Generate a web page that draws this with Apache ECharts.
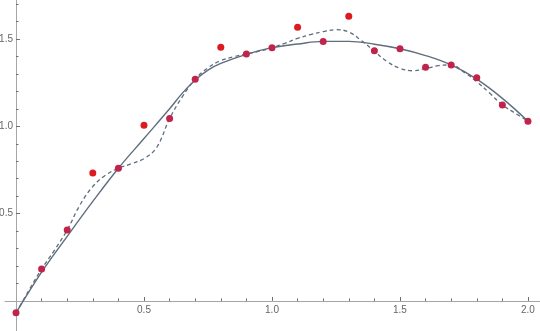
<!DOCTYPE html>
<html>
<head>
<meta charset="utf-8">
<script src="https://cdn.jsdelivr.net/npm/echarts@6/dist/echarts.min.js"></script>
<style>
html,body{margin:0;padding:0;background:#fff;}
#chart{width:540px;height:331px;}
</style>
</head>
<body>
<div id="chart"></div>
<script>
// Data points
var pointX = [0, 0.1, 0.2, 0.3, 0.4, 0.5, 0.6, 0.7, 0.8, 0.9, 1.0, 1.1, 1.2, 1.3, 1.4, 1.5, 1.6, 1.7, 1.8, 1.9, 2.0];
var pointY = [-0.068, 0.183, 0.406, 0.733, 0.76, 1.006, 1.044, 1.269, 1.452, 1.414, 1.45, 1.567, 1.486, 1.63, 1.433, 1.444, 1.338, 1.351, 1.278, 1.122, 1.029];
// points not lying on a curve (drawn brighter red)
var offCurveX = [0.3, 0.5, 0.8, 1.1, 1.3];

// Solid fitted curve
var fitX = [0, 0.1, 0.2, 0.3, 0.4, 0.5, 0.6, 0.65, 0.7, 0.75, 0.8, 0.9, 1.0, 1.1, 1.2, 1.3, 1.4, 1.5, 1.6, 1.7, 1.8, 1.9, 2.0];
var fitY = [-0.068, 0.165, 0.37, 0.57, 0.76, 0.93, 1.1, 1.19, 1.265, 1.322, 1.36, 1.412, 1.45, 1.471, 1.486, 1.486, 1.47, 1.444, 1.405, 1.351, 1.27, 1.16, 1.029];

// Dashed interpolating curve
var interpX = [0, 0.05, 0.1, 0.15, 0.2, 0.25, 0.3, 0.35, 0.4, 0.45, 0.5, 0.55, 0.6, 0.65, 0.7, 0.75, 0.8, 0.85, 0.9, 0.95, 1.0, 1.05, 1.1, 1.15, 1.2, 1.25, 1.3, 1.35, 1.4, 1.45, 1.5, 1.55, 1.6, 1.65, 1.7, 1.75, 1.8, 1.85, 1.9, 1.95, 2.0];
var interpY = [-0.068, 0.06, 0.183, 0.29, 0.406, 0.55, 0.655, 0.72, 0.76, 0.785, 0.815, 0.88, 1.044, 1.17, 1.269, 1.335, 1.376, 1.398, 1.414, 1.43, 1.45, 1.475, 1.503, 1.525, 1.542, 1.553, 1.54, 1.49, 1.43, 1.37, 1.332, 1.318, 1.33, 1.347, 1.351, 1.31, 1.255, 1.19, 1.122, 1.075, 1.029];

// Axis ticks and labels
var majorX = [0.5, 1.0, 1.5, 2.0];
var minorX = [0.1, 0.2, 0.3, 0.4, 0.6, 0.7, 0.8, 0.9, 1.1, 1.2, 1.3, 1.4, 1.6, 1.7, 1.8, 1.9];
var majorY = [0.5, 1.0, 1.5];
var minorY = [0.1, 0.2, 0.3, 0.4, 0.6, 0.7, 0.8, 0.9, 1.1, 1.2, 1.3, 1.4, 1.6, 1.7];

function zip(a, b) { return a.map(function (v, i) { return [v, b[i]]; }); }

var W = 540, H = 331, GRID_LEFT = 5;
var X_MIN = -0.043, X_MAX = 2.047, Y_MIN = -0.172, Y_MAX = 1.723;
// distance from grid edge to the zero lines (labels are drawn at the grid edge when axes sit on zero)
var xZeroFromLeft = (0 - X_MIN) / (X_MAX - X_MIN) * (W - GRID_LEFT);
var yZeroFromBottom = (0 - Y_MIN) / (Y_MAX - Y_MIN) * H;

var lineColor = '#5f6d7c';
var axisColor = '#a6a6a6';
var tickColor = '#6e6e6e';
var labelStyle = { color: '#666', fontSize: 10, fontFamily: 'Liberation Sans, Arial, sans-serif' };

var chart = echarts.init(document.getElementById('chart'), null, { renderer: 'canvas' });
chart.setOption({
  animation: false,
  backgroundColor: '#fff',
  grid: { left: GRID_LEFT, right: 0, top: 0, bottom: 0, containLabel: false, outerBoundsMode: 'none' },
  xAxis: [
    {
      type: 'value', min: X_MIN, max: X_MAX, position: 'bottom',
      axisLine: { show: true, onZero: true, onZeroAxisIndex: 0, lineStyle: { color: axisColor, width: 1 } },
      axisTick: { show: true, inside: true, length: 4, customValues: majorX, lineStyle: { color: tickColor } },
      axisLabel: Object.assign({ show: true, margin: 4 - yZeroFromBottom, customValues: majorX, formatter: function (v) { return v.toFixed(1); } }, labelStyle),
      splitLine: { show: false }
    },
    {
      type: 'value', min: X_MIN, max: X_MAX, position: 'bottom',
      axisLine: { show: false, onZero: true, onZeroAxisIndex: 0 },
      axisTick: { show: true, inside: true, length: 2.5, customValues: minorX, lineStyle: { color: tickColor } },
      axisLabel: { show: false },
      splitLine: { show: false }
    }
  ],
  yAxis: [
    {
      type: 'value', min: Y_MIN, max: Y_MAX, position: 'left',
      axisLine: { show: true, onZero: true, onZeroAxisIndex: 0, lineStyle: { color: axisColor, width: 1 } },
      axisTick: { show: true, inside: true, length: 4, customValues: majorY, lineStyle: { color: tickColor } },
      axisLabel: Object.assign({ show: true, margin: 3 - xZeroFromLeft, customValues: majorY, formatter: function (v) { return v.toFixed(1); } }, labelStyle),
      splitLine: { show: false }
    },
    {
      type: 'value', min: Y_MIN, max: Y_MAX, position: 'left',
      axisLine: { show: false, onZero: true, onZeroAxisIndex: 0 },
      axisTick: { show: true, inside: true, length: 2.5, customValues: minorY, lineStyle: { color: tickColor } },
      axisLabel: { show: false },
      splitLine: { show: false }
    }
  ],
  series: [
    {
      type: 'line', name: 'fit', data: zip(fitX, fitY), smooth: 0.4, showSymbol: false, z: 2,
      lineStyle: { color: lineColor, width: 1.4 }
    },
    {
      type: 'line', name: 'interpolation', data: zip(interpX, interpY), smooth: 0.4, showSymbol: false, z: 2,
      lineStyle: { color: lineColor, width: 1.3, type: [4, 3] }
    },
    {
      type: 'scatter', name: 'data', data: zip(pointX, pointY), symbolSize: 7, z: 5,
      itemStyle: {
        color: function (p) { return offCurveX.indexOf(p.value[0]) >= 0 ? '#dc1a22' : '#c1234b'; },
        opacity: 1
      }
    }
  ]
});
</script>
</body>
</html>
